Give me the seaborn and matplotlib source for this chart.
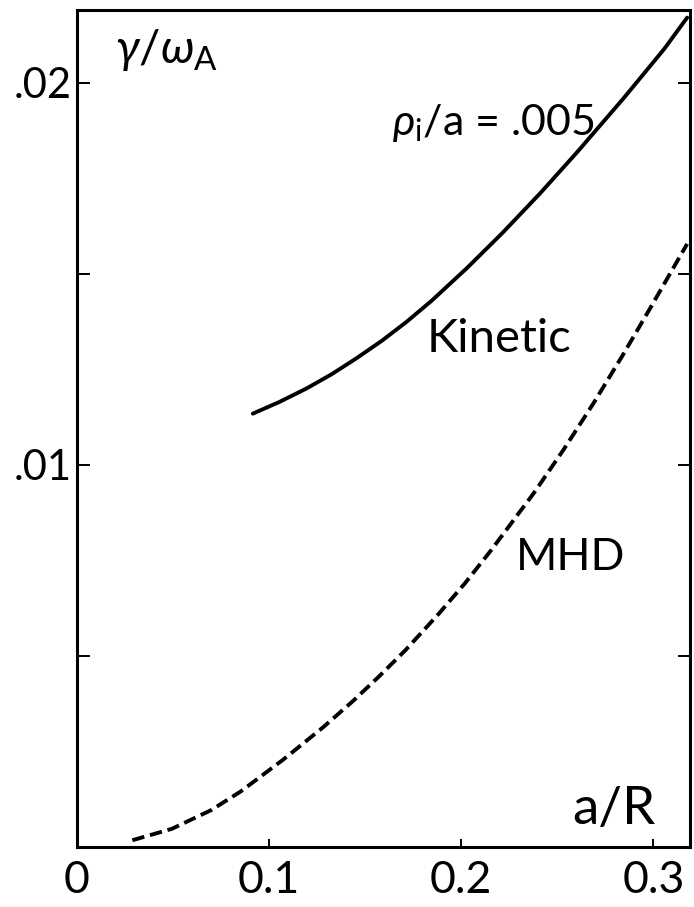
import pandas as pd
import matplotlib
matplotlib.use("Agg")
import matplotlib.pyplot as plt
import seaborn as sns

# Curvas
kinetic_x = [0.0915, 0.1055, 0.1195, 0.1325, 0.1455, 0.1585, 0.1715, 0.1845,
             0.2030, 0.2215, 0.2410, 0.2605, 0.2845, 0.3055, 0.3176]
kinetic_y = [0.01134, 0.01165, 0.01200, 0.01237, 0.01279, 0.01324, 0.01374, 0.01429,
             0.01515, 0.01607, 0.01710, 0.01819, 0.01959, 0.02087, 0.02170]

mhd_x = [0.0288, 0.0494, 0.0699, 0.0853, 0.1076, 0.1282, 0.1436, 0.1573, 0.1711, 0.1882,
         0.2019, 0.2156, 0.2379, 0.2533, 0.2687, 0.2842, 0.2978, 0.3081, 0.3176]
mhd_y = [0.00018, 0.00048, 0.00097, 0.00146, 0.00230, 0.00314, 0.00382, 0.00447, 0.00516, 0.00610,
         0.00690, 0.00777, 0.00927, 0.01040, 0.01160, 0.01288, 0.01405, 0.01495, 0.01578]

x_ticks = [0, 0.1, 0.2, 0.3]
x_tick_labels = ["0", "0.1", "0.2", "0.3"]
y_ticks = [0.005, 0.01, 0.015, 0.02]
y_tick_labels = ["", ".01", "", ".02"]

kinetic = pd.DataFrame({"x": kinetic_x, "y": kinetic_y})
mhd = pd.DataFrame({"x": mhd_x, "y": mhd_y})

sns.set_theme(style="ticks")
plt.rcParams["font.family"] = ["Lato", "DejaVu Sans"]
plt.rcParams["text.color"] = "black"
plt.rcParams["mathtext.fontset"] = "custom"
plt.rcParams["mathtext.rm"] = "Lato"
plt.rcParams["mathtext.it"] = "Lato:italic"
plt.rcParams["mathtext.sf"] = "Lato"

fig = plt.figure(figsize=(6.94, 9.07), dpi=100)
ax = fig.add_axes([0.111, 0.066, 0.883, 0.923])

sns.lineplot(data=kinetic, x="x", y="y", ax=ax, color="black", linewidth=2.8)
sns.lineplot(data=mhd, x="x", y="y", ax=ax, color="black", linewidth=2.8)
ax.lines[-1].set_dashes((3.2, 1.5))

ax.set_xlim(0, 0.319)
ax.set_ylim(0, 0.0219)
ax.set_xlabel("")
ax.set_ylabel("")

ax.set_xticks(x_ticks)
ax.set_xticklabels(x_tick_labels, fontsize=32, color="black")
ax.set_yticks(y_ticks)
ax.set_yticklabels(y_tick_labels, fontsize=30, color="black")
ax.tick_params(axis="x", direction="in", length=6, width=1.4, pad=9, colors="black")
ax.tick_params(axis="y", direction="in", length=9, width=1.4, pad=4, colors="black",
               right=True)

for s in ax.spines.values():
    s.set_visible(True)
    s.set_linewidth(2.2)
    s.set_color("black")

# Etiquetas dentro del grafico
ax.text(0.020, 0.0205, r"$\gamma/\omega_{\rm A}$", fontsize=34, ha="left", va="baseline")
ax.text(0.164, 0.01864, r"$\rho_{\rm i}$/a = .005", fontsize=31, ha="left", va="baseline")
ax.text(0.182, 0.01296, "Kinetic", fontsize=34, ha="left", va="baseline")
ax.text(0.2283, 0.00725, "MHD", fontsize=32, ha="left", va="baseline")
ax.text(0.2576, 0.0006, "a/R", fontsize=38, ha="left", va="baseline")

plt.savefig("out.png", dpi=100, facecolor="white")
plt.close()
